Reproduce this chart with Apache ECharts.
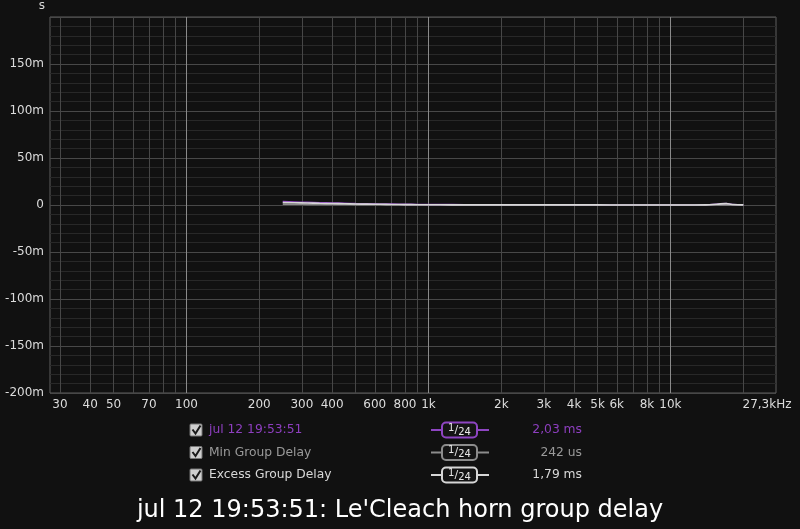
<!DOCTYPE html>
<html>
<head>
<meta charset="utf-8">
<style>
  html, body { margin: 0; padding: 0; background: #111111; }
  #chart { width: 800px; height: 529px; }
</style>
<script src="https://cdn.jsdelivr.net/npm/echarts@6/dist/echarts.min.js"></script>
</head>
<body>
<div id="chart"></div>
<script>
// frequencies (Hz) of the traces
var freqs = [250, 280, 315, 355, 400, 450, 500, 560, 630, 710, 800, 900, 1000, 1250, 1600, 2000,
             2500, 3150, 4000, 5000, 6300, 8000, 10000, 12500, 14000, 15500, 17000, 18000, 20000];
// group delay, ms
var groupDelay  = [3.6, 3.2, 2.8, 2.4, 2.1, 1.8, 1.5, 1.3, 1.1, 0.9, 0.7, 0.55, 0.45, 0.35, 0.3, 0.25,
                   0.2, 0.2, 0.15, 0.15, 0.1, 0.1, 0.1, 0.1, 0.2, 0.8, 1.5, 0.6, 0.2];
var minDelay    = [0.9, 0.8, 0.7, 0.6, 0.55, 0.5, 0.45, 0.4, 0.35, 0.3, 0.27, 0.24, 0.22, 0.18, 0.15, 0.12,
                   0.1, 0.08, 0.07, 0.06, 0.05, 0.04, 0.04, 0.03, 0.03, 0.03, 0.03, 0.03, 0.03];
var excessDelay = [2.7, 2.4, 2.1, 1.8, 1.55, 1.3, 1.05, 0.9, 0.75, 0.6, 0.43, 0.31, 0.23, 0.17, 0.15, 0.13,
                   0.1, 0.12, 0.08, 0.09, 0.05, 0.06, 0.06, 0.07, 0.17, 0.77, 1.47, 0.57, 0.17];

// x axis labels and grid
var xLabelValues = [30, 40, 50, 70, 100, 200, 300, 400, 600, 800, 1000, 2000, 3000, 4000, 5000, 6000, 8000, 10000, 27300];
var xMinorGrid = [30, 40, 50, 60, 70, 80, 90, 200, 300, 400, 500, 600, 700, 800, 900,
                  2000, 3000, 4000, 5000, 6000, 7000, 8000, 9000, 20000];
var xMajorGrid = [100, 1000, 10000];

var legendNames  = ['jul 12 19:53:51', 'Min Group Delay', 'Excess Group Delay'];
var legendValues = ['2,03 ms', '242 us', '1,79 ms'];
var colors = ['#8e45c2', '#8c8c8c', '#d6d6d6'];
var textColors = ['#8e3fc0', '#9a9a9a', '#d8d8d8'];

var FONT = 'DejaVu Sans';

function pairs(vals) {
    return freqs.map(function (f, i) { return [f, vals[i]]; });
}

function fmtFreq(v) {
    if (v === 27300) return '{last|27,3kHz}';
    if (v >= 1000) return (v / 1000) + 'k';
    return '' + v;
}

// legend drawn as graphic rows
var graphics = [];
var rowY = [430, 452.5, 475];
legendNames.forEach(function (name, i) {
    var y = rowY[i];
    graphics.push({
        type: 'rect', shape: { x: 190, y: y - 6, width: 12, height: 12, r: 1 },
        style: { fill: '#cfcfcf', stroke: '#777', lineWidth: 1 }
    });
    graphics.push({
        type: 'polyline', shape: { points: [[192.5, y - 0.5], [195.5, y + 3.5], [200.5, y - 4.5]] },
        style: { stroke: '#1a1a1a', lineWidth: 2, fill: null }
    });
    graphics.push({
        type: 'text', x: 209, y: y,
        style: { text: name, fill: textColors[i], font: '12.3px "' + FONT + '"', verticalAlign: 'middle' }
    });
    graphics.push({
        type: 'line', shape: { x1: 431, y1: y, x2: 489, y2: y },
        style: { stroke: colors[i], lineWidth: 2 }
    });
    graphics.push({
        type: 'rect', shape: { x: 442, y: y - 7.5, width: 35, height: 15, r: 4 },
        style: { fill: '#141414', stroke: colors[i], lineWidth: 2 }
    });
    graphics.push({
        type: 'text', x: 459.5, y: y,
        style: {
            text: '{a|1}{s|/}{b|24}',
            align: 'center', verticalAlign: 'middle',
            rich: {
                a: { fontSize: 10, fill: '#e8e8e8', fontFamily: FONT, verticalAlign: 'top', lineHeight: 14 },
                s: { fontSize: 11, fill: '#e8e8e8', fontFamily: FONT, lineHeight: 14 },
                b: { fontSize: 10, fill: '#e8e8e8', fontFamily: FONT, verticalAlign: 'bottom', lineHeight: 14, padding: [3, 0, 0, 0] }
            }
        }
    });
    graphics.push({
        type: 'text', x: 582, y: y,
        style: { text: legendValues[i], fill: textColors[i], font: '12.3px "' + FONT + '"', align: 'right', verticalAlign: 'middle' }
    });
});

var chart = echarts.init(document.getElementById('chart'));
chart.setOption({
    backgroundColor: '#111111',
    animation: false,
    title: {
        text: "jul 12 19:53:51: Le'Cleach horn group delay",
        left: 'center', top: 494,
        textStyle: { color: '#ffffff', fontSize: 24, fontWeight: 'normal', fontFamily: FONT }
    },
    grid: {
        left: 50, top: 17, width: 726, height: 376,
        show: true, borderColor: '#5e5e5e', borderWidth: 1, backgroundColor: 'transparent'
    },
    xAxis: [{
        type: 'log', logBase: 10, min: 27.3, max: 27300,
        axisLine: { show: false },
        axisTick: { show: false, customValues: xMinorGrid },
        axisLabel: {
            customValues: xLabelValues,
            formatter: fmtFreq,
            color: '#dcdcdc', fontSize: 12, fontFamily: FONT, margin: 6,
            rich: { last: { color: '#dcdcdc', fontSize: 12, fontFamily: FONT, padding: [0, 18, 0, 0] } }
        },
        splitLine: { show: true, lineStyle: { color: '#474747', width: 1 } }
    }, {
        type: 'log', logBase: 10, min: 27.3, max: 27300,
        position: 'bottom',
        axisLine: { show: false },
        axisTick: { show: false, customValues: xMajorGrid },
        axisLabel: { show: false },
        splitLine: { show: true, lineStyle: { color: '#8a8a8a', width: 1 } }
    }],
    yAxis: {
        type: 'value', min: -200, max: 200, interval: 50,
        name: 's', nameLocation: 'end', nameGap: 5,
        nameTextStyle: { color: '#dcdcdc', fontSize: 12, fontFamily: FONT, align: 'right', padding: [0, 5, 0, 0] },
        axisLine: { show: false },
        axisTick: { show: false },
        axisLabel: {
            color: '#dcdcdc', fontSize: 12, fontFamily: FONT, margin: 6,
            formatter: function (v) { return v === 200 ? '' : (v === 0 ? '0' : v + 'm'); }
        },
        splitLine: { show: true, lineStyle: { color: '#484848', width: 1 } },
        minorTick: { show: false, splitNumber: 5 },
        minorSplitLine: { show: true, lineStyle: { color: '#282828', width: 1 } }
    },
    graphic: graphics,
    series: [{
        name: legendNames[0], type: 'line', data: pairs(groupDelay),
        showSymbol: false, smooth: true, lineStyle: { color: colors[0], width: 1.6 }, z: 3
    }, {
        name: legendNames[1], type: 'line', data: pairs(minDelay),
        showSymbol: false, smooth: true, lineStyle: { color: colors[1], width: 1.6 }, z: 4
    }, {
        name: legendNames[2], type: 'line', data: pairs(excessDelay),
        showSymbol: false, smooth: true, lineStyle: { color: colors[2], width: 1.6 }, z: 5
    }]
});
</script>
</body>
</html>
